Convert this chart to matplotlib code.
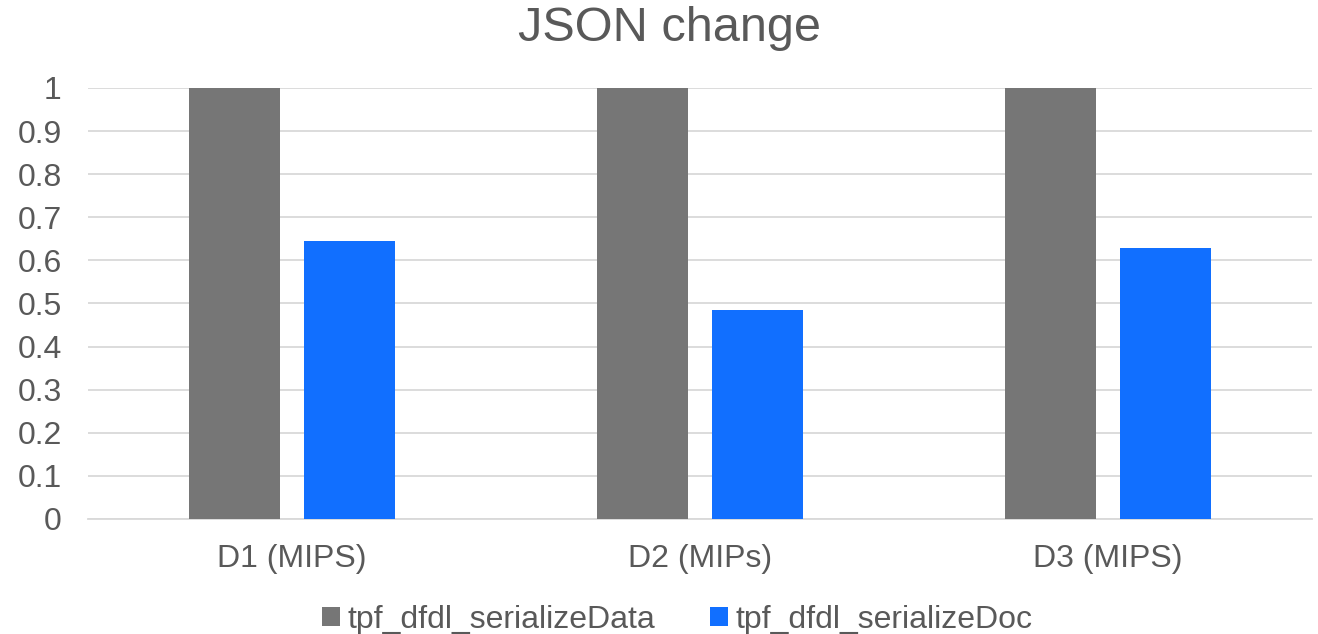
import numpy as np
import matplotlib
matplotlib.use('Agg')
import matplotlib.pyplot as plt

categories = ['D1 (MIPS)', 'D2 (MIPs)', 'D3 (MIPS)']
serialize_data = [1.0, 1.0, 1.0]
serialize_doc = [0.646, 0.486, 0.628]
yticks = [0, 0.1, 0.2, 0.3, 0.4, 0.5, 0.6, 0.7, 0.8, 0.9, 1]
ytick_labels = ['0', '0.1', '0.2', '0.3', '0.4', '0.5', '0.6', '0.7', '0.8', '0.9', '1']

plt.rcParams['font.family'] = ['Liberation Sans', 'DejaVu Sans']
txt = '#595959'

fig = plt.figure(figsize=(13.18, 6.34), dpi=100)
ax = fig.add_axes([0.0668, 0.1814, 0.9286, 0.6798])

x = np.arange(len(categories))
w = 0.223
off = 0.142
ax.bar(x - off, serialize_data, w, color='#767676', label='tpf_dfdl_serializeData', zorder=3)
ax.bar(x + off, serialize_doc, w, color='#116FFF', label='tpf_dfdl_serializeDoc', zorder=3)

ax.set_xlim(-0.5, 2.5)
ax.set_ylim(0, 1)
ax.set_yticks(yticks)
ax.set_yticklabels(ytick_labels)
ax.set_xticks(x)
ax.set_xticklabels(categories)
ax.yaxis.grid(True, color='#D9D9D9', linewidth=1.3, zorder=0)
for s in ['top', 'right', 'left']:
    ax.spines[s].set_visible(False)
ax.spines['bottom'].set_color('#D9D9D9')
ax.spines['bottom'].set_linewidth(1.3)
ax.tick_params(axis='both', length=0, labelsize=23, labelcolor=txt)
ax.tick_params(axis='y', pad=19)
ax.tick_params(axis='x', pad=18)

fig.suptitle('JSON change', fontsize=35, color=txt, y=0.955, va='center', x=0.508)

leg = fig.legend(loc='center', bbox_to_anchor=(0.514, 0.022), ncol=2, frameon=False,
                 fontsize=23, labelcolor=txt, handlelength=0.55, handleheight=0.55,
                 handletextpad=0.25, columnspacing=1.7)

fig.savefig('out.png', dpi=100)
